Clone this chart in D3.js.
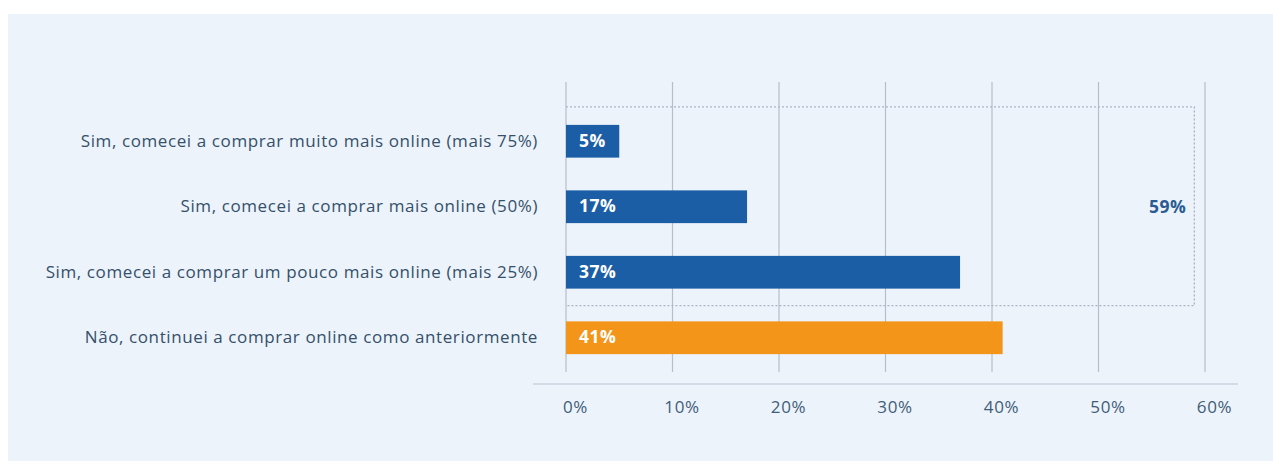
<!DOCTYPE html>
<html>
<head>
<meta charset="utf-8">
<script src="https://cdn.jsdelivr.net/npm/d3@7"></script>
<style>
  html, body { margin: 0; padding: 0; background: #ffffff; }
  svg { display: block; font-family: "Open Sans", "Noto Sans", sans-serif; }
</style>
</head>
<body>
<svg id="chart" width="1273" height="461"></svg>
<script>
// Survey answers, top to bottom
const categories = [
  "Sim, comecei a comprar muito mais online (mais 75%)",
  "Sim, comecei a comprar mais online (50%)",
  "Sim, comecei a comprar um pouco mais online (mais 25%)",
  "Não, continuei a comprar online como anteriormente"
];
const values = [5, 17, 37, 41];
const groups = ["mais", "mais", "mais", "igual"];
const tickValues = [0, 10, 20, 30, 40, 50, 60];
const totalMoreLabel = "59%";

const colors = { mais: "#1b5ea6", igual: "#f39519" };

const svg = d3.select("#chart");

// panel background
svg.append("rect")
  .attr("x", 8).attr("y", 14)
  .attr("width", 1265).attr("height", 447)
  .attr("fill", "#edf3fb");

const x = d3.scaleLinear().domain([0, 60]).range([566, 1205]);
const y = d3.scaleBand().domain(categories).range([108.5, 370.5]).paddingInner(0.5).paddingOuter(0.25);

// vertical gridlines
svg.append("g")
  .selectAll("line")
  .data(tickValues)
  .join("line")
  .attr("x1", d => x(d)).attr("x2", d => x(d))
  .attr("y1", 82).attr("y2", 372)
  .attr("stroke", "#b4bfca")
  .attr("stroke-width", 1.2);

// bottom axis
const axis = svg.append("g")
  .attr("transform", "translate(0,384)")
  .call(d3.axisBottom(x).tickValues(tickValues).tickFormat(d => d + "%").tickSize(0).tickPadding(17));
axis.select(".domain").remove();
axis.append("line")
  .attr("x1", 533).attr("x2", 1238)
  .attr("stroke", "#b9c5d1").attr("stroke-width", 1.2);
axis.selectAll(".tick text")
  .attr("dx", 9)
  .attr("fill", "#3f5d78")
  .attr("font-size", 17)
  .attr("letter-spacing", 0.6)
  .attr("font-family", "\"Open Sans\", sans-serif");

// dotted bracket grouping the "Sim" answers
const moreCats = categories.filter((c, i) => groups[i] === "mais");
const moreTotal = d3.sum(values.filter((v, i) => groups[i] === "mais"));
const bx0 = x(0), bx1 = x(moreTotal);
const by0 = y(moreCats[0]) - 18;
const by1 = y(moreCats[moreCats.length - 1]) + y.bandwidth() + 17;
svg.append("path")
  .attr("d", `M${bx0},${by0}H${bx1}V${by1}H${bx0}`)
  .attr("fill", "none")
  .attr("stroke", "#aab5c1")
  .attr("stroke-width", 1.4)
  .attr("stroke-dasharray", "2,2");

svg.append("text")
  .attr("x", bx1 - 8)
  .attr("y", (by0 + by1) / 2 + 2)
  .attr("text-anchor", "end")
  .attr("dominant-baseline", "middle")
  .attr("fill", "#2a5c93")
  .attr("font-weight", 700)
  .attr("font-size", 17.5)
  .attr("letter-spacing", 0.5)
  .text(totalMoreLabel);

// bars
svg.append("g")
  .selectAll("rect")
  .data(values)
  .join("rect")
  .attr("x", x(0))
  .attr("y", (d, i) => y(categories[i]))
  .attr("width", d => x(d) - x(0))
  .attr("height", y.bandwidth())
  .attr("fill", (d, i) => colors[groups[i]]);

// value labels inside bars
svg.append("g")
  .selectAll("text")
  .data(values)
  .join("text")
  .attr("x", x(0) + 13)
  .attr("y", (d, i) => y(categories[i]) + y.bandwidth() / 2 + 1)
  .attr("dominant-baseline", "middle")
  .attr("fill", "#ffffff")
  .attr("font-weight", 700)
  .attr("font-size", 17.5)
  .attr("letter-spacing", 0.5)
  .text(d => d + "%");

// category labels
svg.append("g")
  .selectAll("text")
  .data(categories)
  .join("text")
  .attr("x", 538)
  .attr("y", d => y(d) + y.bandwidth() / 2 + 1)
  .attr("text-anchor", "end")
  .attr("dominant-baseline", "middle")
  .attr("fill", "#34506a")
  .attr("font-size", 17)
  .attr("letter-spacing", 0.6)
  .text(d => d);
</script>
</body>
</html>
